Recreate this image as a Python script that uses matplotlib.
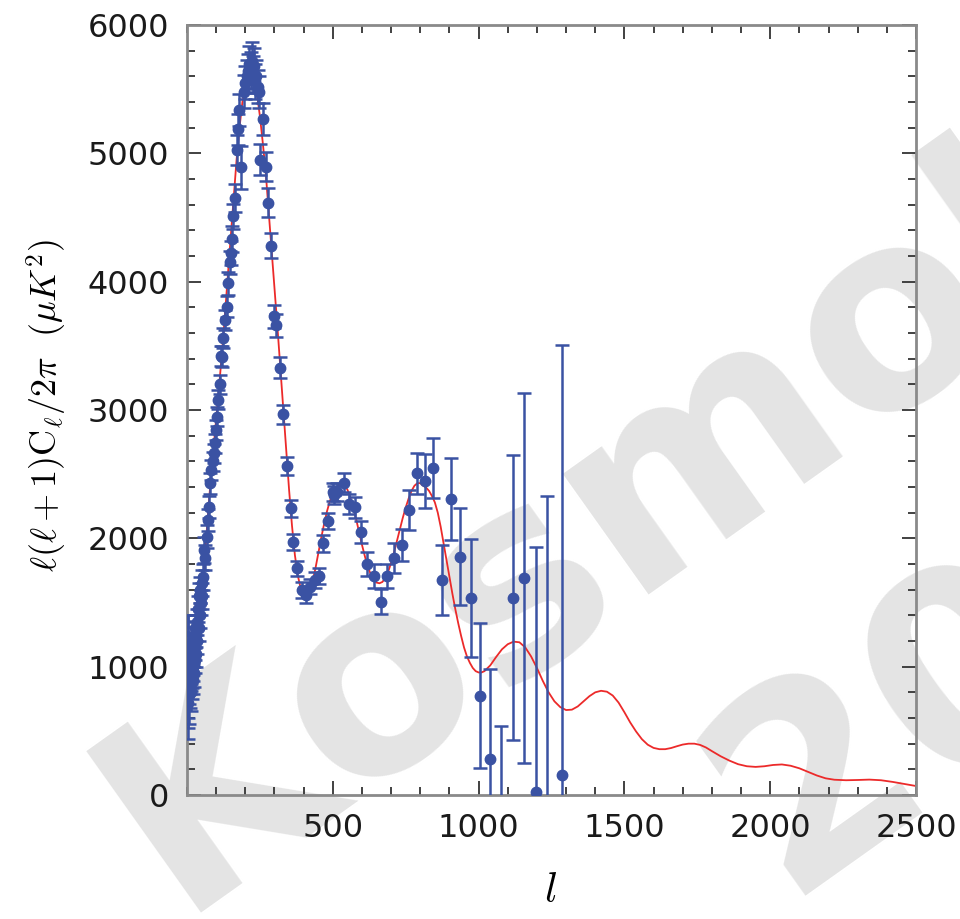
import matplotlib
matplotlib.use("Agg")
import matplotlib.pyplot as plt
from matplotlib.ticker import MultipleLocator

plt.rcParams["mathtext.fontset"] = "cm"

# Measured band powers: multipole, l(l+1)C_l/2pi [uK^2], 1-sigma error
ell = [2, 3, 4, 5, 6, 7, 8, 9, 10, 11, 12, 13, 14, 15, 16, 17, 18, 19, 20,
       21, 22, 23, 24, 25, 26, 27, 28, 29, 30, 32, 34, 36, 38, 40, 42, 44,
       46, 48, 50, 52, 55, 59, 63, 68, 73, 76, 79, 82, 88, 94, 96, 98, 102,
       107, 112, 116, 121, 125, 130, 136, 142, 146, 151, 155, 158, 165, 170,
       176, 180, 186, 196, 200, 205, 210, 214, 218, 222, 226, 230, 234, 238,
       243, 247, 250, 260, 271, 279, 288, 298, 305, 319, 328, 342, 356, 365,
       378, 393, 408, 422, 439, 454, 467, 485, 500, 505, 513, 538, 557, 576,
       596, 616, 641, 664, 685, 710, 736, 762, 790, 816, 845, 875, 904, 937,
       973, 1005, 1040, 1076, 1117, 1156, 1196, 1233, 1285]
power = [1000, 850, 720, 1150, 780, 1050, 900, 1000, 850, 950, 1100, 800,
         950, 1000, 880, 1050, 950, 1150, 900, 1050, 1000, 1200, 950, 1100,
         1250, 1050, 1150, 1300, 1100, 1250, 1350, 1200, 1450, 1300, 1550,
         1400, 1600, 1500, 1650, 1550, 1700, 1910, 1850, 2013, 2143, 2247,
         2429, 2533, 2600, 2663, 2741, 2845, 2949, 3079, 3200, 3420, 3416,
         3560, 3700, 3806, 3988, 4150, 4222, 4331, 4508, 4651, 5027, 5188,
         5339, 4890, 5480, 5550, 5600, 5640, 5700, 5650, 5720, 5620, 5680,
         5560, 5600, 5520, 5480, 4949, 5266, 4897, 4616, 4281, 3730, 3660,
         3331, 2967, 2567, 2234, 1970, 1767, 1598, 1559, 1624, 1676, 1707,
         1962, 2136, 2364, 2340, 2364, 2434, 2266, 2242, 2047, 1800, 1707,
         1507, 1707, 1845, 1949, 2221, 2507, 2447, 2551, 1676, 2307, 1857,
         1538, 772, 278, -250, 1538, 1689, 26, -300, 156]
error = [400, 330, 280, 250, 230, 210, 190, 180, 170, 160, 150, 145, 140,
         135, 130, 125, 120, 118, 115, 112, 110, 108, 106, 104, 102, 100,
         100, 100, 100, 100, 100, 100, 100, 100, 100, 100, 100, 100, 100,
         100, 100, 100, 95, 90, 85, 85, 80, 80, 75, 75, 75, 75, 75, 75, 75,
         80, 80, 80, 80, 85, 90, 90, 95, 100, 100, 110, 115, 120, 125, 170,
         130, 130, 130, 135, 140, 140, 145, 140, 140, 135, 130, 130, 125,
         120, 126, 115, 110, 95, 90, 90, 80, 75, 70, 65, 60, 60, 60, 60, 60,
         60, 60, 65, 65, 70, 70, 70, 75, 80, 80, 85, 90, 95, 100, 95, 115,
         125, 155, 160, 210, 234, 270, 320, 380, 460, 565, 700, 790, 1112,
         1440, 1905, 2630, 3350]

# Best-fit model spectrum
model_ell = [2, 4, 6, 8, 10, 15, 20, 25, 30, 40, 50, 60, 70, 80, 90, 100,
             110, 120, 130, 140, 150, 160, 170, 180, 190, 200, 210, 220, 230,
             240, 250, 260, 270, 280, 290, 300, 310, 320, 330, 340, 350, 360,
             370, 380, 390, 400, 410, 420, 430, 440, 450, 460, 470, 480, 490,
             500, 510, 520, 530, 540, 550, 560, 570, 580, 590, 600, 610, 620,
             630, 640, 650, 660, 670, 680, 690, 700, 710, 720, 730, 740, 750,
             760, 770, 780, 790, 800, 810, 820, 830, 840, 850, 860, 870, 880,
             890, 900, 910, 920, 930, 940, 950, 960, 970, 980, 990, 1000,
             1010, 1020, 1040, 1060, 1080, 1100, 1120, 1140, 1160, 1180, 1200,
             1220, 1240, 1260, 1280, 1300, 1320, 1340, 1360, 1380, 1400, 1420,
             1440, 1460, 1480, 1500, 1520, 1540, 1560, 1580, 1600, 1620, 1640,
             1660, 1680, 1700, 1720, 1740, 1760, 1780, 1800, 1830, 1860, 1890,
             1920, 1950, 1980, 2010, 2040, 2070, 2100, 2130, 2160, 2190, 2220,
             2260, 2300, 2340, 2380, 2420, 2460, 2500]
model_power = [1390, 1250, 1150, 1080, 1030, 980, 980, 1010, 1060, 1230,
               1500, 1820, 2130, 2420, 2680, 2930, 3180, 3450, 3740, 4050,
               4350, 4650, 4950, 5200, 5400, 5520, 5590, 5610, 5570, 5460,
               5290, 5080, 4850, 4550, 4250, 3950, 3650, 3330, 3000, 2680,
               2380, 2100, 1870, 1710, 1610, 1560, 1555, 1590, 1660, 1760,
               1880, 2000, 2110, 2210, 2290, 2350, 2390, 2415, 2425, 2415,
               2380, 2320, 2240, 2150, 2050, 1950, 1860, 1780, 1720, 1680,
               1655, 1650, 1660, 1690, 1740, 1810, 1890, 1980, 2070, 2160,
               2240, 2310, 2370, 2410, 2430, 2430, 2410, 2395, 2370, 2330,
               2280, 2200, 2090, 1960, 1830, 1700, 1570, 1450, 1340, 1240,
               1150, 1080, 1030, 990, 965, 955, 955, 965, 1010, 1075, 1135,
               1175, 1195, 1190, 1150, 1080, 990, 890, 800, 730, 685, 662,
               665, 690, 730, 770, 800, 812, 805, 775, 720, 645, 565, 495,
               435, 392, 367, 357, 357, 366, 380, 393, 400, 400, 390, 370,
               342, 302, 268, 240, 224, 219, 224, 234, 238, 228, 208, 180,
               152, 130, 119, 115, 117, 120, 115, 102, 86, 70]

x_ticks = [500, 1000, 1500, 2000, 2500]
y_ticks = [0, 1000, 2000, 3000, 4000, 5000, 6000]

BLUE = "#3a52a3"
RED = "#ec2a2a"
WATERMARK = "#e4e4e4"

fig = plt.figure(figsize=(9.6, 9.19), dpi=100)
fig.patch.set_facecolor("white")

# Large rotated watermark lettering behind the plot
wm = dict(color=WATERMARK, fontsize=195, fontweight="bold",
          family="DejaVu Sans", rotation=35.4, rotation_mode="anchor",
          ha="center", va="baseline", zorder=-5)
fig.text(897 / 960, 1 - 400 / 919, "Kosmologie", **wm)
fig.text(1092 / 960, 1 - 677 / 919, "2010", **wm)

ax = fig.add_axes([187 / 960, 1 - 795 / 919, (916 - 187) / 960,
                   (795 - 25) / 919])
ax.set_facecolor("none")

ax.plot(model_ell, model_power, color=RED, lw=1.3, zorder=2)
ax.errorbar(ell, power, yerr=error, fmt="o", color=BLUE, ms=7.5,
            elinewidth=1.8, capsize=5, capthick=1.8, zorder=3)

ax.set_xlim(0, 2500)
ax.set_ylim(0, 6000)
ax.set_xticks(x_ticks)
ax.set_yticks(y_ticks)
ax.xaxis.set_minor_locator(MultipleLocator(100))
ax.yaxis.set_minor_locator(MultipleLocator(200))
ax.tick_params(which="both", direction="in", top=True, right=True,
               color="#333333", width=1.3)
ax.tick_params(which="major", length=10, labelsize=23, pad=13)
ax.tick_params(which="minor", length=6)
for side in ax.spines.values():
    side.set_color("#8a8a8a")
    side.set_linewidth(2)

for lab in ax.get_xticklabels() + ax.get_yticklabels():
    lab.set_color("#1a1a1a")

fig.text(47 / 960, 1 - 405 / 919,
         r"$\ell(\ell+1)\mathrm{C}_\ell/2\pi\ \ (\mu K^2)$",
         rotation=90, ha="center", va="center", fontsize=26)
fig.text(551 / 960, 1 - 890 / 919, r"$l$", ha="center", va="center",
         fontsize=30)

fig.savefig("out.png", dpi=100)
